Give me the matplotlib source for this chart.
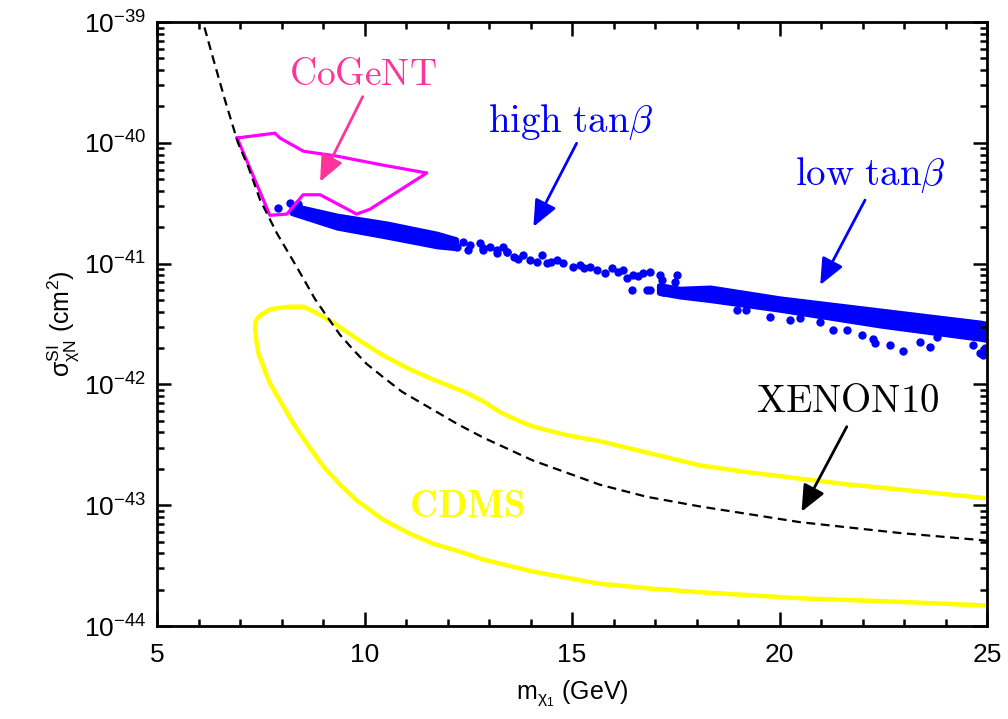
import numpy as np
import matplotlib
matplotlib.use('Agg')
import matplotlib.pyplot as plt
from matplotlib.ticker import MultipleLocator, LogLocator, NullFormatter, FixedLocator

plt.rcParams['font.family'] = ['Liberation Sans', 'DejaVu Sans']

# XENON10 limit (mass in GeV, log10 sigma)
xen_m = [6.05, 6.35, 6.64, 6.95, 7.2, 7.48, 7.89, 8.37, 8.52, 8.8, 9.10, 9.41, 9.72,
         10.05, 10.45, 10.9, 11.65, 12.25, 12.86, 14.06, 15.67, 16.8, 18.08, 20.49,
         22.9, 24.9, 25.2]
xen_s = [-38.93, -39.30, -39.65, -40.0, -40.2, -40.47, -40.75, -41.03, -41.12, -41.29,
         -41.44, -41.59, -41.71, -41.83, -41.94, -42.06, -42.21, -42.33, -42.44, -42.63,
         -42.83, -42.93, -43.01, -43.14, -43.23, -43.29, -43.30]

# CDMS contour, upper and lower branch
cdms_up_m = [7.36, 7.38, 7.48, 7.72, 7.88, 8.20, 8.53, 8.85, 9.25, 9.85, 10.45, 11.06,
             11.66, 12.1, 12.46, 12.86, 13.27, 13.7, 14.07, 14.87, 15.67, 17.0, 18.08,
             19.3, 20.49, 21.7, 22.9, 24.91, 25.3]
cdms_up_s = [-41.536, -41.47, -41.43, -41.38, -41.37, -41.357, -41.357, -41.41, -41.49,
             -41.63, -41.76, -41.87, -41.96, -42.02, -42.07, -42.14, -42.23, -42.30,
             -42.35, -42.42, -42.47, -42.58, -42.67, -42.73, -42.78, -42.83, -42.87,
             -42.94, -42.95]
cdms_lo_m = [7.36, 7.39, 7.44, 7.56, 7.72, 8.04, 8.28, 8.61, 9.01, 9.41, 9.81, 10.45,
             11.06, 11.66, 12.26, 12.86, 14.07, 15.67, 16.9, 18.08, 20.49, 22.9, 25.0, 25.3]
cdms_lo_s = [-41.536, -41.63, -41.74, -41.85, -41.99, -42.18, -42.32, -42.49, -42.68,
             -42.83, -42.96, -43.12, -43.23, -43.32, -43.38, -43.45, -43.55, -43.65,
             -43.69, -43.72, -43.77, -43.80, -43.83, -43.835]

# CoGeNT region
cog_m = [6.93, 7.84, 7.96, 8.53, 9.33, 10.37, 11.5, 10.13, 9.81, 8.93, 8.52, 8.13, 7.72, 6.93]
cog_s = [-39.96, -39.92, -39.96, -40.07, -40.11, -40.18, -40.25, -40.55, -40.59, -40.43,
         -40.43, -40.59, -40.60, -39.96]

# dense parts of the model scan band
bandA_m = [8.25, 9.34, 10.54, 11.75, 12.2]
bandA_top = [-40.52, -40.605, -40.67, -40.755, -40.80]
bandA_bot = [-40.58, -40.70, -40.775, -40.855, -40.87]
bandB_m = [17.1, 17.6, 18.33, 20.01, 22.42, 24.83, 25.0]
bandB_top = [-41.18, -41.21, -41.20, -41.29, -41.39, -41.49, -41.50]
bandB_bot = [-41.24, -41.27, -41.30, -41.38, -41.51, -41.62, -41.63]

# individual scan points
pts_m = [7.92, 8.2, 8.4, 12.10, 12.22, 12.38, 12.54, 12.78, 12.86, 13.02, 13.19, 13.34,
         13.43, 12.86, 13.19, 13.43, 13.59, 13.83, 13.99, 14.15, 14.27, 14.39, 14.63,
         14.79, 15.03, 15.19, 15.43, 15.59, 15.80, 15.96, 16.24, 16.32, 16.48, 16.72,
         16.88, 17.12, 17.16, 17.52, 17.48, 16.44, 16.80, 16.88, 17.20, 17.44,
         12.5, 13.7, 14.5, 15.3, 16.1, 16.6,
         19.77, 21.30, 21.62, 21.98, 22.26, 22.30, 22.66, 22.98, 23.39, 23.63, 23.79,
         24.67, 24.83, 18.98, 19.2, 20.25, 20.5, 20.98, 24.95, 24.9]
pts_s = [-40.54, -40.50, -40.51, -40.832, -40.860, -40.819, -40.846, -40.832, -40.873,
         -40.860, -40.887, -40.860, -40.901, -40.887, -40.915, -40.901, -40.943, -40.929,
         -40.970, -40.984, -40.929, -40.998, -40.970, -40.998, -41.026, -41.012, -41.026,
         -41.053, -41.081, -41.039, -41.053, -41.122, -41.094, -41.081, -41.067, -41.094,
         -41.136, -41.094, -41.150, -41.219, -41.219, -41.219, -41.232, -41.232,
         -40.89, -40.96, -40.99, -41.04, -41.07, -41.10,
         -41.44, -41.55, -41.55, -41.59, -41.62, -41.66, -41.67, -41.72, -41.65, -41.69,
         -41.61, -41.67, -41.74, -41.38, -41.38, -41.47, -41.45, -41.48, -41.70, -41.76]

y_decades = [-44, -43, -42, -41, -40, -39]

fig = plt.figure(figsize=(10.08, 7.19), dpi=100)
ax = fig.add_axes([0.1558, 0.1293, 0.8234, 0.8401])
ax.set_yscale('log')

p = lambda a: 10.0 ** np.array(a)

ax.fill_between(bandA_m, p(bandA_top), p(bandA_bot), color='#0000ff', lw=4)
ax.fill_between(bandB_m, p(bandB_top), p(bandB_bot), color='#0000ff', lw=4)
ax.plot(pts_m, p(pts_s), 'o', color='#0000ff', ms=6, mew=0)

ax.plot(cdms_up_m, p(cdms_up_s), color='#ffff00', lw=3.2, solid_capstyle='round',
        solid_joinstyle='round')
ax.plot(cdms_lo_m, p(cdms_lo_s), color='#ffff00', lw=3.2, solid_capstyle='round',
        solid_joinstyle='round')
ax.plot(cog_m, p(cog_s), color='#ff00ff', lw=2.3)
ax.plot(xen_m, p(xen_s), color='black', lw=1.6, dashes=(4, 2.5))

ax.set_xlim(5, 25)
ax.set_ylim(1e-44, 1e-39)

cm = dict(math_fontfamily='cm', ha='center', va='center')
ax.text(9.97, 10 ** -39.44, r'$\mathrm{CoGeNT}$', color='#ff3399', fontsize=27, **cm)
ax.text(14.97, 10 ** -39.825, r'$\mathrm{high\ tan}\beta$', color='#0000ff', fontsize=28, **cm)
ax.text(22.20, 10 ** -40.267, r'$\mathrm{low\ tan}\beta$', color='#0000ff', fontsize=28, **cm)
ax.text(21.65, 10 ** -42.143, r'$\mathrm{XENON10}$', color='black', fontsize=28, **cm)
ax.text(12.47, 10 ** -43.012, r'$\mathbf{CDMS}$', color='#ffff00', fontsize=28, **cm)

arrows = [((9.956, -39.618), (8.928, -40.322), '#ff3399'),
          ((15.11, -40.004), (14.07, -40.695), '#0000ff'),
          ((22.06, -40.474), (20.98, -41.177), '#0000ff'),
          ((21.62, -42.350), (20.53, -43.054), 'black')]
for (x0, y0), (x1, y1), c in arrows:
    ax.annotate('', xy=(x1, 10 ** y1), xytext=(x0, 10 ** y0),
                arrowprops=dict(arrowstyle='-|>,head_length=0.8,head_width=0.35',
                                color=c, lw=2, mutation_scale=20, shrinkA=0, shrinkB=0))

ax.xaxis.set_major_locator(MultipleLocator(5))
ax.xaxis.set_minor_locator(MultipleLocator(1))
ax.yaxis.set_major_locator(FixedLocator(p(y_decades)))
ax.yaxis.set_minor_locator(LogLocator(base=10, subs=np.arange(2, 10), numticks=20))
ax.yaxis.set_minor_formatter(NullFormatter())
ax.tick_params(which='both', direction='in', top=True, right=True, width=1.8)
ax.tick_params(which='major', length=10, labelsize=19)
ax.tick_params(axis='x', which='major', pad=12)
ax.tick_params(axis='y', which='major', pad=8)
ax.tick_params(which='minor', length=5)
for s in ax.spines.values():
    s.set_linewidth(2)

ax.set_xlabel(r'm$_{\mathregular{\chi_1}}$ (GeV)', fontsize=18, labelpad=8)
ax.set_ylabel(r'$\mathregular{\sigma^{SI}_{\chi N}}$ (cm$^\mathregular{2}$)', fontsize=18, labelpad=2)

fig.savefig('out.png', dpi=100)
